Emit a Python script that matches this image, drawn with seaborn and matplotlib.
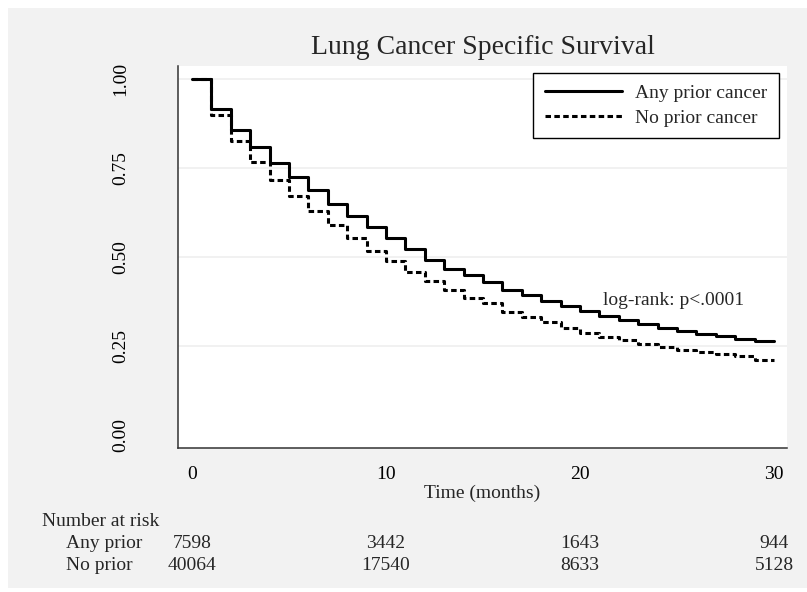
import numpy as np
import pandas as pd
import matplotlib
matplotlib.use("Agg")
import matplotlib.pyplot as plt
import matplotlib.transforms as mtransforms
from matplotlib.patches import Rectangle
import seaborn as sns

# ---------------- data ----------------
months = list(range(0, 31))
any_prior = [1.000, 0.915, 0.857, 0.810, 0.765, 0.724, 0.688, 0.649, 0.616, 0.585,
             0.552, 0.522, 0.492, 0.466, 0.449, 0.430, 0.408, 0.394, 0.377, 0.362,
             0.348, 0.334, 0.322, 0.312, 0.300, 0.291, 0.284, 0.278, 0.271, 0.263,
             0.263]
no_prior = [1.000, 0.899, 0.826, 0.768, 0.716, 0.671, 0.629, 0.590, 0.552, 0.518,
            0.489, 0.459, 0.433, 0.406, 0.384, 0.370, 0.346, 0.332, 0.318, 0.300,
            0.287, 0.276, 0.266, 0.257, 0.248, 0.240, 0.234, 0.228, 0.221, 0.211,
            0.211]
group_names = ["Any prior cancer", "No prior cancer"]
y_ticks = [0.00, 0.25, 0.50, 0.75, 1.00]
y_ticklabels = ["0.00", "0.25", "0.50", "0.75", "1.00"]
x_ticks = [0, 10, 20, 30]
risk_times = [0, 10, 20, 30]
risk_any = ["7598", "3442", "1643", "944"]
risk_no = ["40064", "17540", "8633", "5128"]
risk_rows = ["Any prior", "No prior"]
title = "Lung Cancer Specific Survival"
pval_text = "log-rank: p<.0001"

df = pd.DataFrame({
    "time": months + months,
    "surv": any_prior + no_prior,
    "group": [group_names[0]] * len(months) + [group_names[1]] * len(months),
})

# ---------------- style ----------------
sns.set_style("white")
plt.rcParams["font.family"] = ["Liberation Serif", "DejaVu Serif"]
plt.rcParams["mathtext.default"] = "regular"

W, H = 807, 592
fig = plt.figure(figsize=(W / 100, H / 100), dpi=100, facecolor="white")
fig.patches.append(Rectangle((8 / W, 4 / H), (W - 8) / W, (H - 12) / H,
                             transform=fig.transFigure, facecolor="#f2f2f2",
                             edgecolor="none", zorder=-10))

ax = fig.add_axes([178 / W, 1 - 448 / H, 609 / W, 382 / H])
ax.set_facecolor("white")

for yv in y_ticks[1:]:
    ax.axhline(yv, color="#ededed", lw=1.1, zorder=0)

sns.lineplot(data=df, x="time", y="surv", hue="group", style="group",
             palette={group_names[0]: "black", group_names[1]: "black"},
             dashes={group_names[0]: "", group_names[1]: (1.8, 1.1)},
             drawstyle="steps-post", estimator=None, linewidth=2.2,
             ax=ax, legend=True)

ax.set_xlim(-0.72, 30.67)
ax.set_ylim(-0.0365, 1.0365)
ax.set_xticks(x_ticks)
ax.set_yticks(y_ticks)
ax.set_yticklabels(y_ticklabels, rotation=90, va="center")
ax.tick_params(axis="both", direction="out", length=6, width=1.1,
               color="#333333", labelsize=14, labelcolor="black")
ax.tick_params(axis="y", pad=29)
ax.tick_params(axis="x", pad=7)
ax.set_xlabel("Time (months)", fontsize=14, labelpad=1)
ax.set_ylabel("")

for s in ["top", "right"]:
    ax.spines[s].set_visible(False)
for s in ["left", "bottom"]:
    ax.spines[s].set_color("#333333")
    ax.spines[s].set_linewidth(1.1)

fig.text(482.5 / W, 1 - 47 / H, title, ha="center", va="center", fontsize=20)

handles, labels = ax.get_legend_handles_labels()
ax.legend(handles, labels, loc="upper right",
          bbox_to_anchor=((779 - 178) / 609, (448 - 73) / 382),
          borderaxespad=0, fontsize=14, frameon=True, fancybox=False,
          edgecolor="black", framealpha=1, handlelength=4.0,
          handletextpad=0.65, labelspacing=0.35, borderpad=0.6)
leg = ax.get_legend()
leg.get_frame().set_linewidth(1.0)

ax.text(21.2, 0.379, pval_text, ha="left", va="center", fontsize=14)

# risk table
blend = mtransforms.blended_transform_factory(ax.transData, fig.transFigure)
fig.text(42 / W, 1 - 521 / H, "Number at risk", ha="left", va="center", fontsize=14)
for row_label, vals, ypx in zip(risk_rows, [risk_any, risk_no], [543, 565]):
    fig.text(66 / W, 1 - ypx / H, row_label, ha="left", va="center", fontsize=14)
    for t, v in zip(risk_times, vals):
        ax.text(t, 1 - ypx / H, v, transform=blend, ha="center", va="center",
                fontsize=14, clip_on=False)

fig.savefig("out.png", dpi=100, facecolor=fig.get_facecolor())
